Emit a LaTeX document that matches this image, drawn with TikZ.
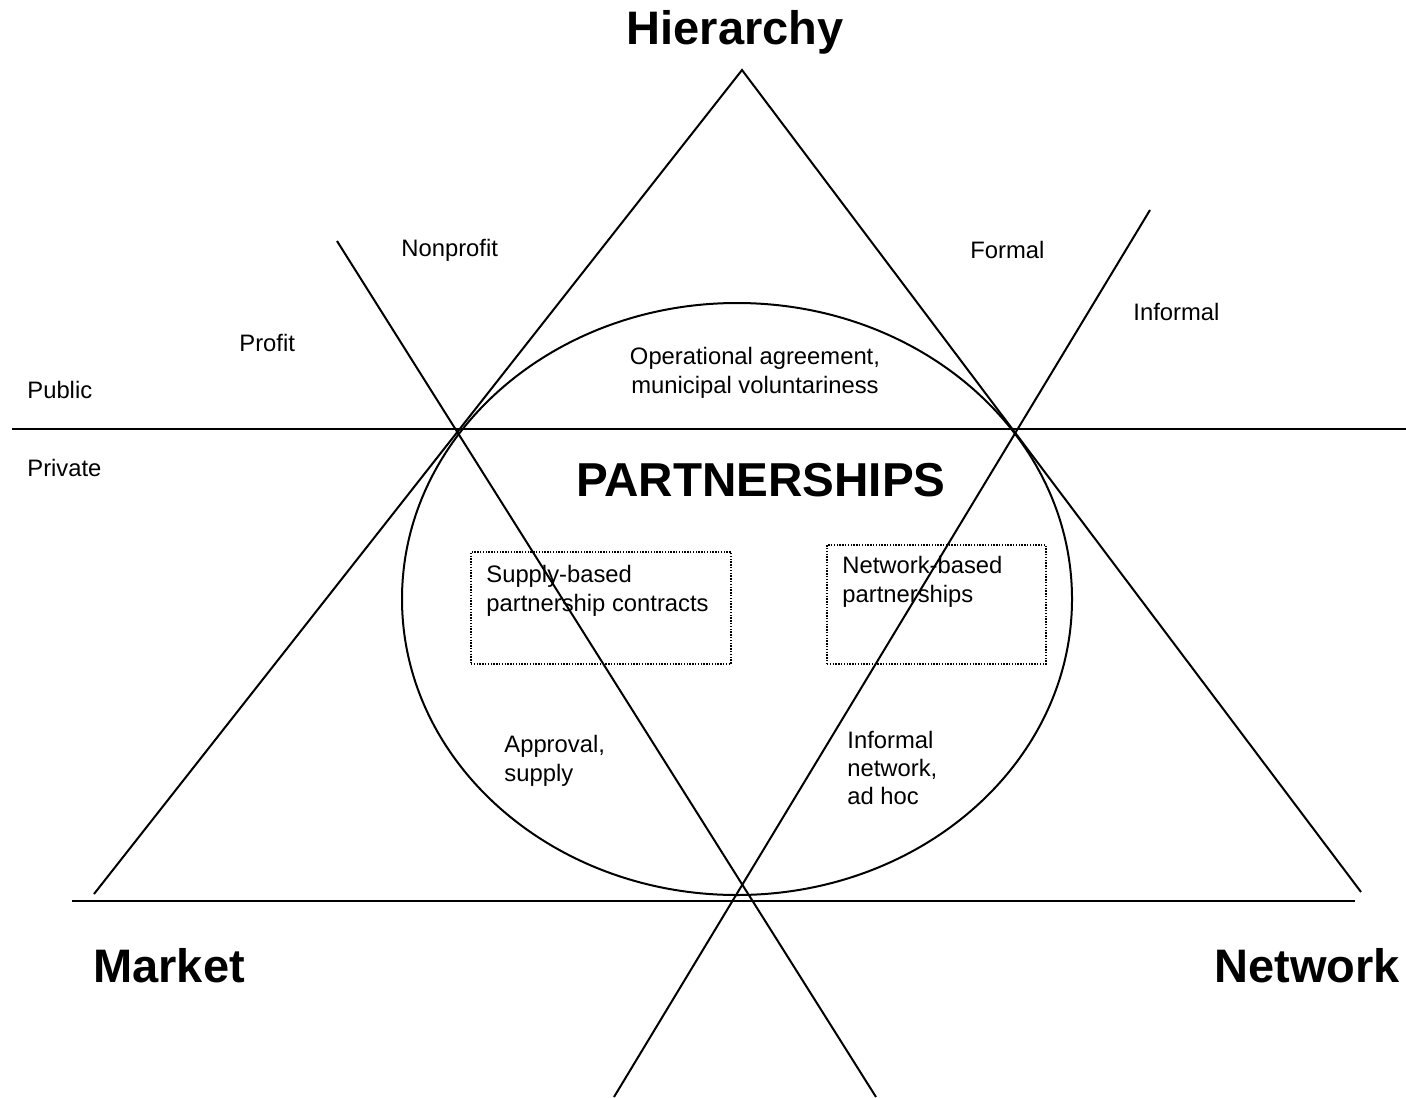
\documentclass[tikz,border=0pt]{standalone}
\usepackage{fontspec}
\setmainfont{Liberation Sans}
\usetikzlibrary{shapes.geometric}
\begin{document}
\begin{tikzpicture}[x=0.5pt,y={(0pt,-0.5pt)},
  ln/.style={line width=1pt,black},
  dotbox/.style={draw,line width=1pt,dash pattern=on 0.7pt off 0.7pt},
  small/.style={font=\fontsize{11.9}{14.2}\selectfont,inner sep=0pt,align=left},
  big/.style={font=\bfseries\fontsize{23.5}{28}\selectfont,inner sep=0pt},
  title/.style={font=\bfseries\fontsize{23.8}{28}\selectfont,inner sep=0pt}]
\useasboundingbox (0,0) rectangle (1406,1097);
% coordinates
\coordinate (apex) at (742,70);
\coordinate (tl) at (94,894);
\coordinate (tr) at (1361,892);
\coordinate (bl) at (72,901);
\coordinate (br) at (1355,901);
\coordinate (hl) at (12,429);
\coordinate (hr) at (1406,429);
\coordinate (d1) at (337,241);
\coordinate (d2) at (876,1097);
\coordinate (a1) at (614,1097);
\coordinate (a2) at (1150,210);
\coordinate (ec) at (737,599);
% lines
\draw[ln] (tl) -- (apex) -- (tr);
\draw[ln] (bl) -- (br);
\draw[ln] (hl) -- (hr);
\draw[ln] (d1) -- (d2);
\draw[ln] (a1) -- (a2);
\draw[ln] (ec) ellipse [x radius=167.5pt, y radius=148pt];
% dotted boxes
\node[dotbox,minimum width=130pt,minimum height=56pt,anchor=north west,inner sep=0pt] (box1) at (470,551) {};
\node[dotbox,minimum width=109.5pt,minimum height=59.5pt,anchor=north west,inner sep=0pt] (box2) at (826,544) {};
% big labels
\node[big] (hier) at (735,32) {Hierarchy};
\node[big,anchor=west] (market) at (93,966) {Market};
\node[big,anchor=west] (network) at (1214,966) {Network};
\node[title] (partners) at (761,480) {PARTNERSHIPS};
% small labels
\node[small,anchor=west] (nonprofit) at (401,250) {Nonprofit};
\node[small,anchor=west] (formal) at (970,250) {Formal};
\node[small,anchor=west] (informal) at (1133,312) {Informal};
\node[small,anchor=west] (profit) at (239,343) {Profit};
\node[small,anchor=west] (public) at (27,390) {Public};
\node[small,anchor=west] (private) at (27,468) {Private};
\node[small,align=center] (oper) at (755,373) {Operational agreement,\\ municipal voluntariness};
\node[small,anchor=west] (supply) at (486,591) {Supply-based\\partnership contracts};
\node[small,anchor=west] (netbased) at (842,582) {Network-based\\partnerships};
\node[small,anchor=west] (approval) at (504,761) {Approval,\\supply};
\node[small,anchor=west] (infnet) at (847,768) {Informal\\network,\\ad hoc};
\end{tikzpicture}
\end{document}
